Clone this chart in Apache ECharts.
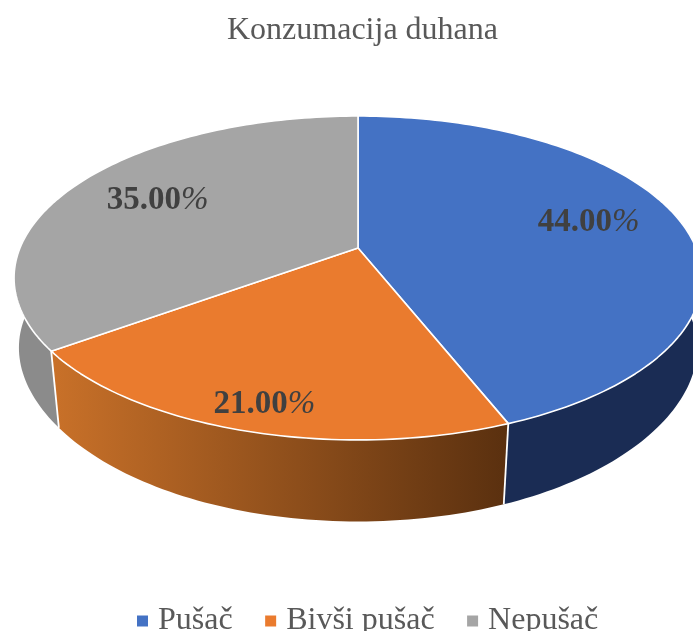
<!DOCTYPE html>
<html><head><meta charset="utf-8">
<style>html,body{margin:0;padding:0;background:#fff}#c{width:693px;height:631px}</style>
<script src="https://cdn.jsdelivr.net/npm/echarts@6/dist/echarts.min.js"></script>
</head><body><div id="c"></div>
<script>
const categories = ['Pušač', 'Bivši pušač', 'Nepušač'];
const shares = [44, 21, 35];
const topColors = ['#4472c4', '#ea7b2e', '#a5a5a5'];
const sideFrom = ['#1a2c54', '#c97129', '#8b8b8b'];
const sideTo = ['#1a2c54', '#5a300f', '#8b8b8b'];
const labelRadius = [0.723, 0.875, 0.705];
const labelAngle = [21.3, 54.3, 82.5];
const titleText = 'Konzumacija duhana';

// tilt of the pie plate (a perspective view of the polar circle)
const CX = 358, CY = 248, R = 338;
const K = 0.185, TOP_B = 156.4;
const BOT_SCALE = 0.97, BOT_BULGE = 0.018, BOT_B = 165, BOT_CY = 319;

function project(p, level) {
  const X = (p[0] - CX) / R, Y = (CY - p[1]) / R, w = 1 + K * Y;
  return level === 0
    ? [CX + R * X / w, CY - TOP_B * Y / w]
    : [CX + R * BOT_SCALE * (1 + BOT_BULGE * Math.pow(X, 6)) * X / w, BOT_CY - BOT_B * Y / w];
}
function arc(api, from, to, level) {
  const pts = [], n = Math.max(2, Math.ceil(to - from) * 3);
  for (let i = 0; i <= n; i++) {
    pts.push(project(api.coord([1, from + (to - from) * i / n]), level));
  }
  return pts;
}
let acc = 0;
const starts = shares.map(v => { const s = acc; acc += v; return s; });

const series = categories.map((name, i) => ({
  name, type: 'custom', coordinateSystem: 'polar',
  clip: false, silent: true,
  itemStyle: { color: topColors[i] },
  data: [[1, starts[i] + shares[i] / 2]],
  renderItem(params, api) {
    const a = starts[i], b = a + shares[i];
    const sa = Math.max(a, 20), sb = Math.min(b, 80);
    const topArc = arc(api, sa, sb, 0), botArc = arc(api, sa, sb, 1);
    const centre = project(api.coord([0, 0]), 0);
    const mid = project(api.coord([labelRadius[i], labelAngle[i]]), 0);
    const face = [centre].concat(arc(api, a, b, 0));
    const children = [{
      type: 'polygon', shape: { points: topArc.concat(botArc.slice().reverse()) },
      style: { fill: { type: 'linear', x: 0, y: 0, x2: 1, y2: 0,
        colorStops: [{ offset: 0, color: sideFrom[i] }, { offset: 1, color: sideTo[i] }] } }
    }];
    if (a >= 20 && a <= 80) {
      children.push({ type: 'line', shape: { x1: topArc[0][0], y1: topArc[0][1], x2: botArc[0][0], y2: botArc[0][1] },
        style: { stroke: '#fff', lineWidth: 1.8 } });
    }
    children.push({ type: 'polygon', shape: { points: face },
      style: { fill: topColors[i], stroke: '#fff', lineWidth: 1.6, lineJoin: 'round' } });
    children.push({ type: 'text', x: mid[0], y: mid[1],
      style: { text: '{n|' + shares[i].toFixed(2) + '}{p|%}', align: 'center', verticalAlign: 'middle',
        rich: {
          n: { font: 'bold 33px "Liberation Serif"', fill: '#404040' },
          p: { font: 'italic 33px "Liberation Serif"', fill: '#404040' }
        } } });
    return { type: 'group', children };
  }
}));

echarts.init(document.getElementById('c'), null, { renderer: 'canvas' }).setOption({
  animation: false,
  backgroundColor: '#fff',
  title: { text: titleText, left: 222, top: 10,
    textStyle: { fontFamily: 'Liberation Serif', fontSize: 32, fontWeight: 'normal', color: '#595959' } },
  legend: { data: categories, left: 132, top: 600, itemWidth: 11, itemHeight: 11, itemGap: 32.5, icon: 'rect',
    textStyle: { fontFamily: 'Liberation Serif', fontSize: 32, color: '#595959', padding: [0, 0, 0, 5] } },
  polar: { center: [CX, CY], radius: R },
  angleAxis: { type: 'value', min: 0, max: 100, startAngle: 90, clockwise: true, show: false },
  radiusAxis: { type: 'value', min: 0, max: 1, show: false },
  series
});
</script></body></html>
